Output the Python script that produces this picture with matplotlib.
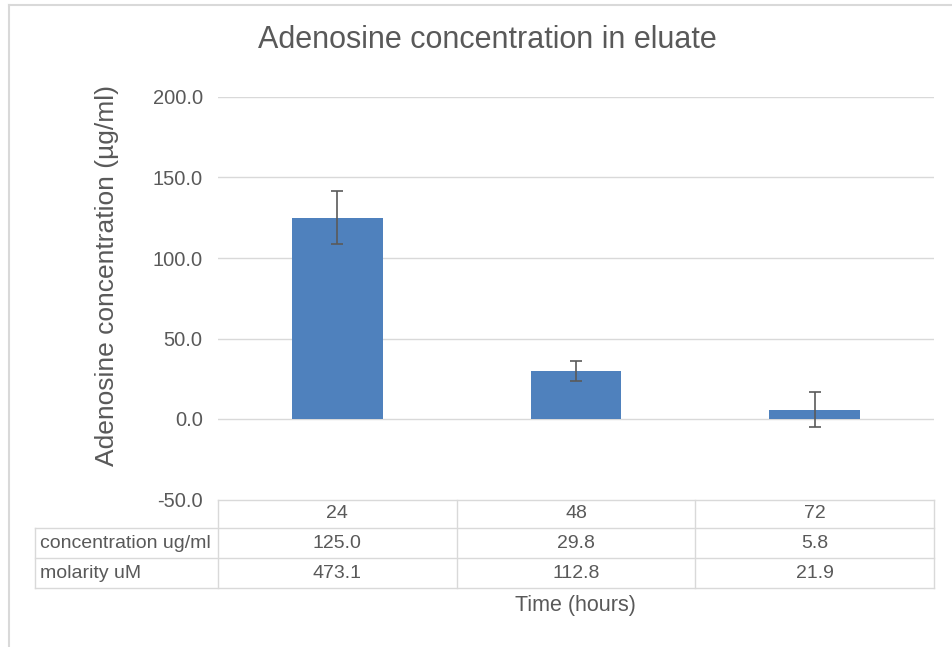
import matplotlib.pyplot as plt
import matplotlib.transforms as mtransforms
from matplotlib.lines import Line2D

times = ["24", "48", "72"]
conc = [125.0, 29.8, 5.8]
err = [16.5, 6.2, 10.8]
molarity = [473.1, 112.8, 21.9]
row_labels = ["concentration ug/ml", "molarity uM"]

W, H = 953, 647
txt = "#595959"
grid = "#d9d9d9"
plt.rcParams['font.family'] = ['Liberation Sans', 'DejaVu Sans']

fig = plt.figure(figsize=(W / 100, H / 100), dpi=100)
ax = fig.add_axes([218 / W, 1 - 499.5 / H, (934 - 218) / W, (499.5 - 97) / H])

x = range(len(times))
ax.bar(x, conc, width=0.38, color="#4f81bd", zorder=2)
ax.errorbar(x, conc, yerr=err, fmt="none", ecolor="#5a5a5a", elinewidth=1.2,
            capsize=4.5, capthick=1.2, zorder=3)

ax.set_xlim(-0.5, 2.5)
ax.set_ylim(-50, 200)
ax.set_yticks([-50, 0, 50, 100, 150, 200])
ax.set_yticklabels([f"{v:.1f}" for v in [-50, 0, 50, 100, 150, 200]])
ax.set_xticks([])
for v in [0, 50, 100, 150, 200]:
    ax.axhline(v, color=grid, lw=1, zorder=1)
for s in ax.spines.values():
    s.set_visible(False)
ax.tick_params(axis="y", length=0, pad=11, labelsize=14.5, labelcolor=txt)

fig.text(487 / W, 1 - 40 / H, "Adenosine concentration in eluate",
         ha="center", va="center", fontsize=22, color=txt)
fig.text(107 / W, 1 - 275 / H, "Adenosine concentration (µg/ml)", rotation=90,
         ha="center", va="center", fontsize=19, color=txt)
fig.text(575 / W, 1 - 606 / H, "Time (hours)", ha="center", va="center",
         fontsize=15.5, color=txt)

# data table under the axis
def hline(x0, x1, y):
    fig.add_artist(Line2D([x0 / W, x1 / W], [1 - y / H, 1 - y / H], color=grid, lw=1))

def vline(xp, y0, y1):
    fig.add_artist(Line2D([xp / W, xp / W], [1 - y0 / H, 1 - y1 / H], color=grid, lw=1))

hline(218, 934, 500)
for yy in [528, 558, 588]:
    hline(35, 934, yy)
for xp in [218, 456.7, 695.3, 934]:
    vline(xp, 500, 588)
vline(35, 528, 588)

blend = mtransforms.blended_transform_factory(ax.transData, fig.transFigure)
for i, t in enumerate(times):
    ax.text(i, 1 - 514 / H, t, transform=blend, ha="center", va="center",
            fontsize=14, color=txt)
    ax.text(i, 1 - 543 / H, f"{conc[i]:.1f}", transform=blend, ha="center",
            va="center", fontsize=14, color=txt)
    ax.text(i, 1 - 573 / H, f"{molarity[i]:.1f}", transform=blend, ha="center",
            va="center", fontsize=14, color=txt)
for lab, yy in zip(row_labels, [543, 573]):
    fig.text(40 / W, 1 - yy / H, lab, ha="left", va="center", fontsize=14, color=txt)

# chart area border (top and left edges visible)
fig.add_artist(Line2D([9 / W, 1], [1 - 5 / H, 1 - 5 / H], color=grid, lw=1.5))
fig.add_artist(Line2D([9 / W, 9 / W], [0, 1 - 5 / H], color=grid, lw=1.5))

fig.savefig("out.png", dpi=100)
